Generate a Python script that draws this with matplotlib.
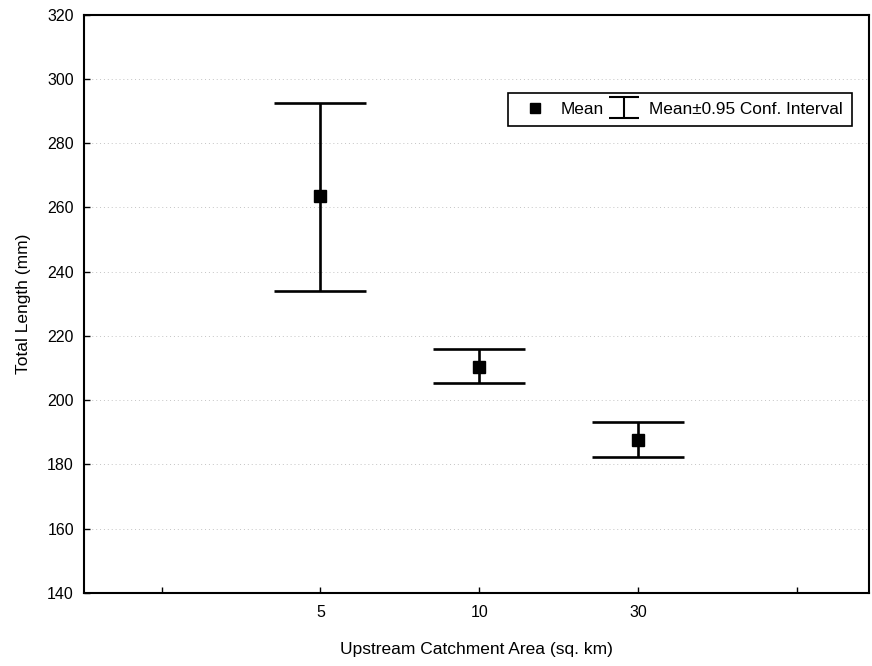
import numpy as np
import matplotlib.pyplot as plt
from matplotlib.lines import Line2D
from matplotlib.container import ErrorbarContainer
from matplotlib.legend_handler import HandlerErrorbar

plt.rcParams['font.family'] = ['Liberation Sans', 'DejaVu Sans']

# catchment groups and total length stats (mm)
areas = ["5", "10", "30"]
means = [263.5, 210.3, 187.6]
ci_low = [233.9, 205.3, 182.3]
ci_high = [292.6, 215.9, 193.2]

tick_labels = ["", "5", "10", "30", ""]
x = np.arange(1, len(areas) + 1)

fig = plt.figure(figsize=(8.72, 6.66), dpi=100)
ax = fig.add_axes([0.096, 0.11, 0.9, 0.868])

means_a = np.array(means)
yerr = [means_a - np.array(ci_low), np.array(ci_high) - means_a]
ax.errorbar(x, means, yerr=yerr, fmt='none', ecolor='black',
            elinewidth=1.9, capsize=33, capthick=1.9, zorder=3)
ax.plot(x, means, 's', color='black', markersize=8.5, zorder=4)

# small-capped copy used only as the legend symbol
eb_leg = ax.errorbar([np.nan], [np.nan], yerr=[[1], [1]], fmt='none',
                     ecolor='black', elinewidth=1.5, capsize=11, capthick=1.5)

ax.set_xlim(-0.49, 4.45)
ax.set_ylim(140, 320)
ax.set_yticks(np.arange(140, 321, 20))
ax.set_xticks(np.arange(0, 5))
ax.set_xticklabels(tick_labels)

ax.grid(axis='y', color='#c4c4c4', linestyle=(0, (1, 3)), linewidth=0.7)
ax.set_axisbelow(True)

for s in ax.spines.values():
    s.set_linewidth(1.5)
ax.tick_params(direction='in', length=4, width=1, labelsize=11.5)
ax.tick_params(axis='x', pad=9)
ax.tick_params(axis='y', pad=7)

ax.set_xlabel("Upstream Catchment Area (sq. km)", fontsize=12.5, labelpad=16)
ax.set_ylabel("Total Length (mm)", fontsize=12.5, labelpad=12)

mean_h = Line2D([], [], marker='s', color='black', linestyle='none', markersize=7.5)
leg = ax.legend([mean_h, eb_leg], ["Mean", "Mean\u00b10.95 Conf. Interval"],
                handler_map={ErrorbarContainer: HandlerErrorbar(yerr_size=0.6)},
                ncol=2, loc='upper right', bbox_to_anchor=(0.979, 0.865),
                fontsize=12.4, fancybox=False, edgecolor='black',
                handlelength=2.2, handletextpad=0.35, columnspacing=0.1,
                borderpad=0.52, borderaxespad=0, framealpha=1)
leg.get_frame().set_linewidth(1.2)

fig.savefig("out.png", dpi=100)
